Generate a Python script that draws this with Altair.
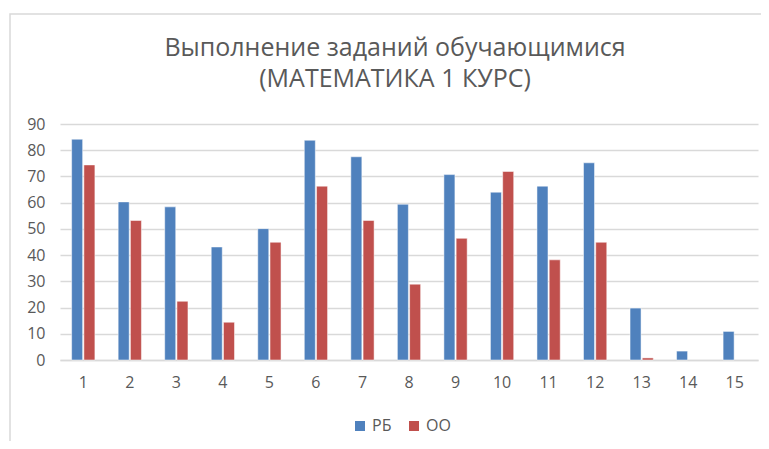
import altair as alt
import pandas as pd

tasks = [str(i) for i in range(1, 16)]
rb = [84.2, 60.3, 58.4, 43.1, 50.1, 83.8, 77.5, 59.4, 70.7, 64.0, 66.3, 75.2, 19.8, 3.4, 10.9]
oo = [74.4, 53.2, 22.4, 14.4, 44.9, 66.3, 53.2, 28.9, 46.4, 71.9, 38.2, 44.9, 0.8, None, None]
series = ["РБ", "ОО"]
colors = ["#4F81BD", "#C0504D"]
y_ticks = list(range(0, 91, 10))
title_lines = ["Выполнение заданий обучающимися", "(МАТЕМАТИКА 1 КУРС)"]

rows = []
for t, a, b in zip(tasks, rb, oo):
    rows.append({"task": t, "series": "РБ", "value": a})
    if b is not None:
        rows.append({"task": t, "series": "ОО", "value": b})
df = pd.DataFrame(rows)

FONT = "Open Sans"
GRAY = "#595959"
GRID = "#D9D9D9"

bars = alt.Chart(df).mark_bar(stroke="white", strokeWidth=0.5).encode(
    x=alt.X("task:N", sort=tasks, title=None,
            scale=alt.Scale(paddingInner=0.5, paddingOuter=0.25),
            axis=alt.Axis(labelAngle=0, ticks=False, domainColor=GRID, domainWidth=1.5,
                          labelPadding=14, labelFont=FONT, labelFontSize=16, labelColor=GRAY)),
    xOffset=alt.XOffset("series:N", sort=series, scale=alt.Scale(paddingInner=0.1, paddingOuter=0)),
    y=alt.Y("value:Q", title=None,
            scale=alt.Scale(domain=[0, 90], nice=False),
            axis=alt.Axis(values=y_ticks, ticks=False, domain=False, gridColor=GRID, gridWidth=1.5,
                          labelPadding=15, labelFont=FONT, labelFontSize=16, labelColor=GRAY)),
    color=alt.Color("series:N", sort=series,
                    scale=alt.Scale(domain=series, range=colors),
                    legend=alt.Legend(title=None, orient="none", direction="horizontal",
                                      legendX=292, legendY=294, symbolType="square", symbolSize=100,
                                      symbolStrokeWidth=0, labelFont=FONT, labelFontSize=16,
                                      labelColor=GRAY, columnPadding=14, labelOffset=4)),
)

one = pd.DataFrame({"a": [0]})

frame = alt.Chart(one).mark_rect(
    fill=None, stroke=GRID, strokeWidth=1.5, clip=False
).encode(x=alt.value(-50), x2=alt.value(900), y=alt.value(-110), y2=alt.value(600))

title = alt.Chart(one).mark_text(
    text=title_lines, font=FONT, fontSize=25, color=GRAY, align="center",
    baseline="alphabetic", lineHeight=31
).encode(x=alt.value(335), y=alt.value(-68))

chart = alt.layer(frame, title, bars).properties(
    width=698, height=236,
    padding={"left": 52, "top": 116, "right": 3, "bottom": 81},
    autosize=alt.AutoSizeParams(type="none"),
).configure_view(stroke=None)

chart.save("out.html", embed_options={"renderer": "svg", "actions": False})
